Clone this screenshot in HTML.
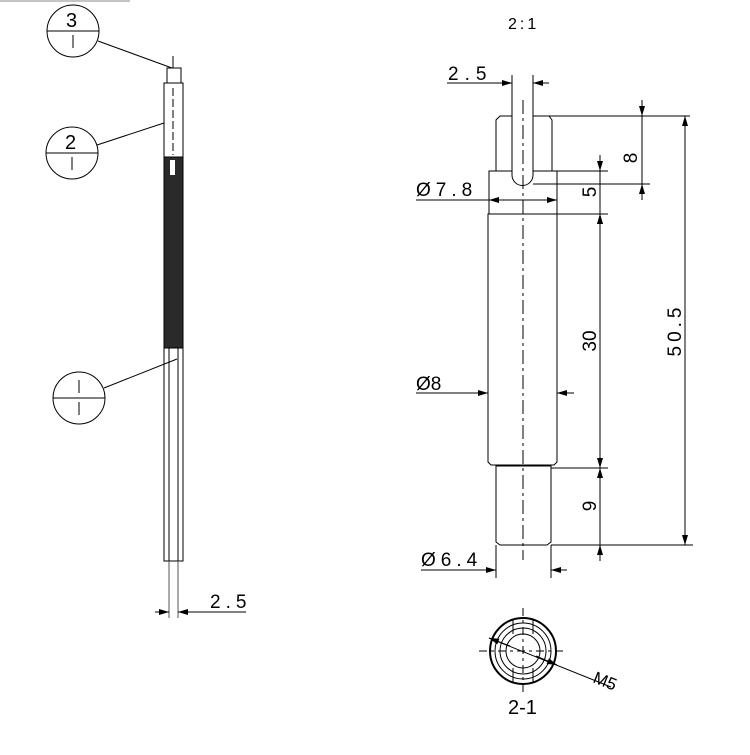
<!DOCTYPE html>
<html><head><meta charset="utf-8"><style>
html,body{margin:0;padding:0;background:#fff}
svg{display:block}
text{font-family:"Liberation Sans Narrow","Liberation Sans",sans-serif;fill:#000}
</style></head><body>
<svg width="750" height="755" viewBox="0 0 750 755" xmlns="http://www.w3.org/2000/svg">
<defs>
<marker id="a" viewBox="0 0 10 6" refX="10" refY="3" markerWidth="12" markerHeight="6" orient="auto-start-reverse" markerUnits="userSpaceOnUse"><path d="M0,0L10,3L0,6z" fill="#000"/></marker>
</defs>
<g stroke="#000" fill="none" stroke-width="1">
<line x1="0" y1="1" x2="130" y2="1" stroke="#888"/>
<circle cx="73" cy="31" r="26"/><line x1="47" y1="31" x2="99" y2="31"/><line x1="73" y1="35" x2="73" y2="48"/>
<line x1="98" y1="41" x2="172" y2="68"/>
<circle cx="72" cy="153" r="26"/><line x1="46" y1="153" x2="98" y2="153"/><line x1="72" y1="157" x2="72" y2="170"/>
<line x1="97" y1="145" x2="164" y2="123"/>
<circle cx="79" cy="398" r="26"/><line x1="53" y1="398" x2="105" y2="398"/><line x1="79" y1="380" x2="79" y2="393"/><line x1="79" y1="402" x2="79" y2="415"/>
<line x1="104" y1="388" x2="177" y2="359"/>
<line x1="173" y1="56" x2="173" y2="68"/>
<rect x="167" y="68" width="14" height="15"/>
<rect x="164" y="83" width="19" height="74"/>
<line x1="173" y1="88" x2="173" y2="155" stroke-dasharray="8,3"/>
<rect x="164" y="157" width="19" height="191" fill="#2a2a2a"/>
<rect x="170" y="160" width="5" height="15" fill="#fff" stroke="none"/>
<rect x="164" y="348" width="19" height="213"/>
<line x1="169" y1="348" x2="169" y2="561"/><line x1="178" y1="348" x2="178" y2="561"/>
<line x1="169" y1="561" x2="169" y2="618" stroke="#555"/><line x1="178" y1="561" x2="178" y2="618" stroke="#555"/>
<line x1="155" y1="612" x2="169" y2="612" marker-end="url(#a)"/>
<line x1="192" y1="612" x2="178" y2="612" marker-end="url(#a)"/>
<line x1="178" y1="612" x2="246" y2="612"/>
<path d="M500,116 L549,116 L552,120 L552,171 L496,171 L496,120 Z"/>
<rect x="489" y="171" width="68" height="43"/>
<path d="M488,214 L557,214 L557,462 L554,465 L491,465 L488,462 Z"/>
<path d="M496,466 L551,466 L551,542 L547,545 L500,545 L496,542 Z"/>
<path d="M512,75 L512,175 A10.5,10.5 0 0 0 533,175 L533,75" fill="#fff"/>
<line x1="523" y1="100" x2="523" y2="560" stroke-dasharray="14,4,3,4"/>
<line x1="447" y1="83" x2="512" y2="83" marker-end="url(#a)"/>
<line x1="549" y1="83" x2="533" y2="83" marker-end="url(#a)"/>
<line x1="533" y1="116" x2="690" y2="116"/>
<line x1="533" y1="184" x2="650" y2="184"/>
<line x1="642" y1="100" x2="642" y2="116" marker-end="url(#a)"/>
<line x1="642" y1="116" x2="642" y2="184"/>
<line x1="642" y1="200" x2="642" y2="184" marker-end="url(#a)"/>
<line x1="557" y1="171" x2="608" y2="171"/>
<line x1="600" y1="155" x2="600" y2="171" marker-end="url(#a)"/>
<line x1="557" y1="214" x2="608" y2="214"/>
<line x1="600" y1="230" x2="600" y2="214" marker-end="url(#a)"/>
<line x1="600" y1="171" x2="600" y2="214"/>
<line x1="600" y1="214" x2="600" y2="468" marker-start="url(#a)" marker-end="url(#a)"/>
<line x1="551" y1="468" x2="608" y2="468"/>
<line x1="600" y1="468" x2="600" y2="545" marker-start="url(#a)"/>
<line x1="600" y1="561" x2="600" y2="545" marker-end="url(#a)"/>
<line x1="551" y1="545" x2="693" y2="545"/>
<line x1="685" y1="116" x2="685" y2="545" marker-start="url(#a)" marker-end="url(#a)"/>
<line x1="416" y1="200" x2="557" y2="200"/>
<line x1="523" y1="200" x2="489" y2="200" marker-end="url(#a)"/>
<line x1="523" y1="200" x2="557" y2="200" marker-end="url(#a)"/>
<line x1="416" y1="393" x2="488" y2="393" marker-end="url(#a)"/>
<line x1="574" y1="393" x2="557" y2="393" marker-end="url(#a)"/>
<line x1="496" y1="545" x2="496" y2="578"/><line x1="551" y1="545" x2="551" y2="578"/>
<line x1="421" y1="570" x2="496" y2="570" marker-end="url(#a)"/>
<line x1="567" y1="570" x2="551" y2="570" marker-end="url(#a)"/>
<circle cx="523" cy="651" r="33" stroke-width="2"/>
<circle cx="523" cy="651" r="28"/>
<circle cx="523" cy="651" r="23"/>
<circle cx="523" cy="651" r="17"/>
<line x1="513" y1="619" x2="513" y2="634"/><line x1="533" y1="619" x2="533" y2="634"/>
<line x1="513" y1="668" x2="513" y2="683"/><line x1="533" y1="668" x2="533" y2="683"/>
<line x1="523" y1="608" x2="523" y2="696" stroke-dasharray="8,4,3,4"/>
<line x1="479" y1="651" x2="567" y2="651" stroke-dasharray="8,4,3,4"/>
<line x1="489" y1="638" x2="611" y2="687"/>
<line x1="510" y1="646" x2="489" y2="638" marker-end="url(#a)"/>
<line x1="536" y1="656" x2="557" y2="665" marker-end="url(#a)"/>
</g>
<g font-size="19">
<text x="66" y="27" font-size="20">3</text>
<text x="65" y="149" font-size="20">2</text>
<text x="210" y="608" letter-spacing="5">2.5</text>
<text x="508" y="29" font-size="16" letter-spacing="3">2:1</text>
<text x="448" y="80" letter-spacing="6">2.5</text>
<text x="416" y="196" letter-spacing="5">Ø7.8</text>
<text x="416" y="390">Ø8</text>
<text x="421" y="566" letter-spacing="5">Ø6.4</text>
<text transform="translate(637,158) rotate(-90)" text-anchor="middle">8</text>
<text transform="translate(596,192) rotate(-90)" text-anchor="middle">5</text>
<text transform="translate(596,341) rotate(-90)" text-anchor="middle">30</text>
<text transform="translate(596,506) rotate(-90)" text-anchor="middle">9</text>
<text transform="translate(681,330) rotate(-90)" text-anchor="middle" letter-spacing="4">50.5</text>
<text transform="translate(592,682) rotate(22)" font-size="17">M5</text>
<text x="508" y="714" font-family="Liberation Serif" font-size="20">2-1</text>
</g>
</svg>
</body></html>
